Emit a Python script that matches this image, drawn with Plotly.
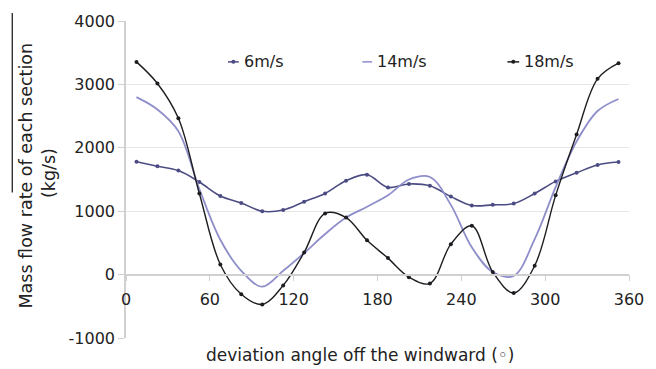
import plotly.graph_objects as go

angles = [7.5 + 15 * i for i in range(24)]
v6 = [1780, 1710, 1640, 1460, 1240, 1130, 1000, 1020, 1150, 1280, 1480, 1575,
      1375, 1430, 1400, 1230, 1090, 1100, 1120, 1280, 1470, 1605, 1730, 1775]
v14 = [2800, 2605, 2260, 1350, 550, 60, -190, 60, 340, 640, 900, 1070,
       1250, 1500, 1540, 1100, 430, 40, -20, 560, 1380, 2100, 2580, 2770]
v18 = [3355, 3015, 2465, 1280, 160, -310, -470, -170, 350, 965, 900, 540,
       260, -40, -140, 480, 770, 40, -290, 140, 1250, 2210, 3088, 3335]

series_names = ["6m/s", "14m/s", "18m/s"]
x_ticks = [0, 60, 120, 180, 240, 300, 360]
y_ticks = [-1000, 0, 1000, 2000, 3000, 4000]
y_tick_labels = ["-1000", "0", "1000", "2000", "3000", "4000"]

colors = ["#4c4c84", "#8e8ecb", "#1e1e22"]
FONT = "DejaVu Sans, Arial, sans-serif"

fig = go.Figure()
fig.add_trace(go.Scatter(x=angles, y=v6, mode="lines+markers", name=series_names[0],
                         line=dict(color=colors[0], width=1.6, shape="spline", smoothing=1.0),
                         marker=dict(size=4, color=colors[0])))
fig.add_trace(go.Scatter(x=angles, y=v14, mode="lines", name=series_names[1],
                         line=dict(color=colors[1], width=1.8, shape="spline", smoothing=1.0)))
fig.add_trace(go.Scatter(x=angles, y=v18, mode="lines+markers", name=series_names[2],
                         line=dict(color=colors[2], width=1.4, shape="spline", smoothing=1.0),
                         marker=dict(size=4, color=colors[2])))

L, R, T, B = 126, 639, 20, 338
W, H = 656, 369

def px(xp):
    return (xp - L) / (R - L)

def py(yp):
    return (B - yp) / (B - T)

shapes = []
annotations = []
leg = [(230, 241, 244, True), (367, 377, 380, False), (515, 527, 530, True)]
for (x0, x1, tx, dot), name, c in zip(leg, series_names, colors):
    shapes.append(dict(type="line", xref="paper", yref="paper", x0=px(x0), x1=px(x1),
                       y0=py(61), y1=py(61), line=dict(color=c, width=1.5)))
    if dot:
        shapes.append(dict(type="circle", xref="paper", yref="paper",
                           xsizemode="pixel", ysizemode="pixel",
                           xanchor=px((x0 + x1) / 2), yanchor=py(61),
                           x0=-2, x1=2, y0=-2, y1=2,
                           fillcolor=c, line=dict(color=c, width=0)))
    annotations.append(dict(text=name, xref="paper", yref="paper", x=px(tx), y=py(61),
                            xanchor="left", yanchor="middle", showarrow=False,
                            font=dict(family=FONT, size=16, color="#222")))

# artifact line at top-left
shapes.append(dict(type="line", xref="paper", yref="paper", x0=px(10), x1=px(10),
                   y0=py(12), y1=py(192), line=dict(color="#111", width=1.2)))

annotations.append(dict(text="deviation angle off the windward (◦)", xref="paper", yref="paper",
                        x=px(365), y=py(355), xanchor="center", yanchor="middle",
                        showarrow=False, font=dict(family=FONT, size=17, color="#222")))
annotations.append(dict(text="Mass flow rate of each section", xref="paper", yref="paper",
                        x=px(24), y=py(175), xanchor="center", yanchor="middle", textangle=-90,
                        showarrow=False, font=dict(family=FONT, size=17.5, color="#222")))
annotations.append(dict(text="(kg/s)", xref="paper", yref="paper",
                        x=px(47), y=py(173), xanchor="center", yanchor="middle", textangle=-90,
                        showarrow=False, font=dict(family=FONT, size=17.5, color="#222")))

fig.update_layout(
    width=W, height=H,
    margin=dict(l=L, r=W - R, t=T, b=H - B),
    plot_bgcolor="white", paper_bgcolor="white",
    showlegend=False,
    shapes=shapes, annotations=annotations,
    xaxis=dict(range=[0, 360], tickvals=x_ticks, anchor="free", position=0.2,
               showline=True, linecolor="#d0d0d0", linewidth=1.5, showgrid=False, zeroline=False,
               ticks="outside", ticklen=6, tickcolor="#d0d0d0", ticklabelstandoff=4,
               tickfont=dict(family=FONT, size=16, color="#222")),
    yaxis=dict(range=[-1000, 4000], tickvals=y_ticks, ticktext=y_tick_labels,
               showline=True, linecolor="#d0d0d0", linewidth=1.5,
               showgrid=True, gridcolor="#e6e6e6", gridwidth=1, zeroline=False,
               ticks="outside", ticklen=6, tickcolor="#d0d0d0",
               tickfont=dict(family=FONT, size=16, color="#222")),
)

fig.write_html("out.html")
